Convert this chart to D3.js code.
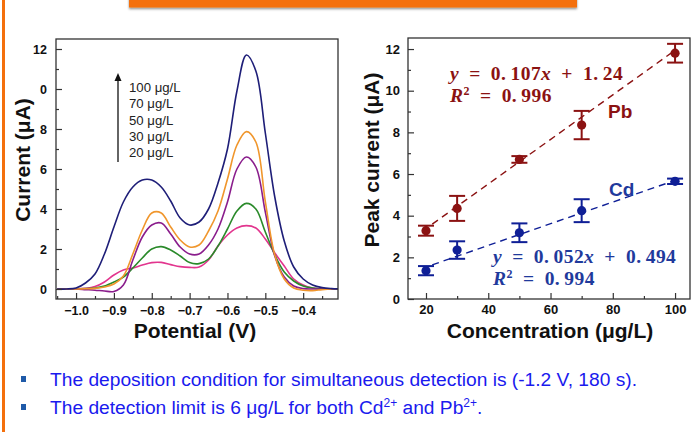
<!DOCTYPE html>
<html>
<head>
<meta charset="utf-8">
<script src="https://cdn.jsdelivr.net/npm/d3@7"></script>
<style>
  html, body { margin: 0; padding: 0; background: #fff; }
  svg { display: block; }
</style>
</head>
<body>
<svg id="chart" width="693" height="432"></svg>
<script>
// ---------- DATA ----------
const potentials = [-1.05,-1.025,-1.0,-0.975,-0.95,-0.925,-0.9,-0.875,-0.85,-0.825,-0.8,-0.775,-0.75,-0.725,-0.7,-0.675,-0.65,-0.625,-0.6,-0.575,-0.55,-0.525,-0.5,-0.475,-0.45,-0.425,-0.4,-0.375,-0.35,-0.325,-0.3];
const cur100 = [0,0,0.05,0.3,0.75,1.75,3.1,4.35,5.1,5.45,5.45,5.1,4.4,3.55,3.2,3.35,4.0,5.3,7.0,9.9,11.7,10.9,7.8,4.6,2.4,1.1,0.5,0.2,0.07,0.02,0];
const cur70  = [0,0,0,0.01,0.03,0.1,0.25,0.65,1.75,2.95,3.8,3.8,3.1,2.45,2.1,2.2,2.9,3.9,5.5,7.2,7.87,7.35,4.37,1.7,0.5,0.05,-0.06,-0.08,-0.03,0,0];
const cur50  = [0,0,0,-0.03,-0.06,-0.1,-0.12,0.2,1.45,2.6,3.2,3.3,2.75,2.1,1.75,1.75,2.2,3.0,4.35,6.0,6.6,6.1,3.85,1.65,0.6,0.15,0.02,0,0,0,0];
const cur30  = [0,0,0,0.02,0.05,0.15,0.35,0.6,1.05,1.55,2.0,2.12,1.95,1.65,1.32,1.27,1.5,2.15,3.0,3.9,4.28,4.0,2.85,1.7,0.85,0.4,0.15,0.05,0,0,0];
const cur20  = [0,0,0,0.03,0.12,0.35,0.7,0.95,1.05,1.2,1.32,1.33,1.22,1.12,1.08,1.1,1.45,2.15,2.7,3.05,3.17,3.05,2.5,1.8,1.15,0.5,0.2,0.05,0,0,0];
const legendLabels = ["100 μg/L","70 μg/L","50 μg/L","30 μg/L","20 μg/L"];
const leftYTicks = [0,2,4,6,8,10,12];
const leftYTickLabels = ["0","2","4","6","8","0","12"];
const leftXTicks = [-1.0,-0.9,-0.8,-0.7,-0.6,-0.5,-0.4];

const concentrations = [20,30,50,70,100];
const pbMean = [3.28,4.35,6.7,8.35,11.8];
const pbErr  = [0.24,0.6,0.16,0.68,0.45];
const cdMean = [1.36,2.35,3.18,4.24,5.65];
const cdErr  = [0.22,0.42,0.45,0.55,0.13];
const pbFit = {slope:0.107, intercept:1.24, r2:"0.996"};
const cdFit = {slope:0.052, intercept:0.494, r2:"0.994"};
const rightYTicks = [0,2,4,6,8,10,12];
const rightXTicks = [20,40,60,80,100];

const bullets = [
  [{t:"The deposition condition for simultaneous detection is (-1.2 V, 180 s)."}],
  [{t:"The detection limit is 6 μg/L for both Cd"},{t:"2+",sup:true},{t:" and Pb"},{t:"2+",sup:true},{t:"."}]
];

// ---------- STYLE ----------
const curveColors = ["#1e1e78","#f0962c","#8a1d8c","#2a8a2a","#e2358e"];
const pbColor = "#8b1212";
const cdColor = "#0f1f96";
const eqBlue = "#1f3a9c";
const orange = "#f4700c";
const frameColor = "#333";
const sans = "Arial, 'Liberation Sans', Helvetica, sans-serif";
const serif = "'Liberation Serif', 'Times New Roman', serif";

const svg = d3.select("#chart");

// Slide decorations
const defs = svg.append("defs");
const f = defs.append("filter").attr("id","shadow").attr("x","-5%").attr("y","-50%").attr("width","110%").attr("height","250%");
f.append("feDropShadow").attr("dx",0).attr("dy",1.5).attr("stdDeviation",1.2).attr("flood-color","#000").attr("flood-opacity",0.45);
svg.append("rect").attr("x",129).attr("y",-4).attr("width",448).attr("height",11.5).attr("fill",orange).attr("filter","url(#shadow)");
svg.append("rect").attr("x",2).attr("y",0).attr("width",3).attr("height",432).attr("fill",orange);

// ---------- LEFT CHART ----------
const L = {left:56, right:338, top:39, bottom:299};
const xL = d3.scaleLinear().domain([-1.053,-0.308]).range([L.left,L.right]);
const yL = d3.scaleLinear().domain([-0.5,12.5]).range([L.bottom,L.top]);
const gL = svg.append("g");

const clip = defs.append("clipPath").attr("id","clipL");
clip.append("rect").attr("x",L.left).attr("y",L.top).attr("width",L.right-L.left).attr("height",L.bottom-L.top);

const lineGen = d3.line().x((d,i)=>xL(potentials[i])).y(d=>yL(d)).curve(d3.curveCatmullRom.alpha(0.5));
const seriesList = [cur20,cur30,cur50,cur70,cur100];
const seriesColors = [curveColors[4],curveColors[3],curveColors[2],curveColors[1],curveColors[0]];
gL.append("g").attr("clip-path","url(#clipL)").selectAll("path").data(seriesList).join("path")
  .attr("d",d=>lineGen(d)).attr("fill","none").attr("stroke",(d,i)=>seriesColors[i]).attr("stroke-width",1.6);

// axes (ticks inside)
const lyAxis = d3.axisLeft(yL).tickValues(leftYTicks).tickSize(-6).tickPadding(9)
  .tickFormat((d,i)=>leftYTickLabels[i]);
gL.append("g").attr("transform",`translate(${L.left},0)`).call(lyAxis);
const lyMinor = d3.axisLeft(yL).tickValues([1,3,5,7,9,11]).tickSize(-3).tickFormat("");
gL.append("g").attr("transform",`translate(${L.left},0)`).call(lyMinor);
const lxAxis = d3.axisBottom(xL).tickValues(leftXTicks).tickSize(-6).tickPadding(7).tickFormat(d3.format(".1f"));
gL.append("g").attr("transform",`translate(0,${L.bottom})`).call(lxAxis);
const lxMinor = d3.axisBottom(xL).tickValues([-1.05,-0.95,-0.85,-0.75,-0.65,-0.55,-0.45,-0.35]).tickSize(-3).tickFormat("");
gL.append("g").attr("transform",`translate(0,${L.bottom})`).call(lxMinor);
gL.append("rect").attr("x",L.left).attr("y",L.top).attr("width",L.right-L.left).attr("height",L.bottom-L.top)
  .attr("fill","none").attr("stroke",frameColor).attr("stroke-width",1.3);

// legend
const lg = gL.append("g");
lg.append("line").attr("x1",118).attr("x2",118).attr("y1",162).attr("y2",79).attr("stroke","#111").attr("stroke-width",1.3);
lg.append("path").attr("d","M114.5,81 L118,73 L121.5,81 Z").attr("fill","#111");
lg.selectAll("text").data(legendLabels).join("text")
  .attr("x",129).attr("y",(d,i)=>92+i*16.3).text(d=>d)
  .attr("font-family",sans).attr("font-size",13.2).attr("fill","#222");

// titles
gL.append("text").attr("x",195).attr("y",338).attr("text-anchor","middle").text("Potential (V)")
  .attr("font-family",sans).attr("font-weight","bold").attr("font-size",21).attr("fill","#111");
gL.append("text").attr("transform","translate(30,160) rotate(-90)").attr("text-anchor","middle").text("Current (μA)")
  .attr("font-family",sans).attr("font-weight","bold").attr("font-size",21).attr("fill","#111");

// ---------- RIGHT CHART ----------
const R = {left:408, right:690, top:38, bottom:299};
const xR = d3.scaleLinear().domain([14.22,104.8]).range([R.left,R.right]);
const yR = d3.scaleLinear().domain([0,12.53]).range([R.bottom,R.top]);
const gR = svg.append("g");

const ryAxis = d3.axisLeft(yR).tickValues(rightYTicks).tickSize(-6).tickPadding(8).tickFormat(d3.format("d"));
gR.append("g").attr("transform",`translate(${R.left},0)`).call(ryAxis);
gR.append("g").attr("transform",`translate(${R.left},0)`).call(d3.axisLeft(yR).tickValues([1,3,5,7,9,11]).tickSize(-3).tickFormat(""));
const rxAxis = d3.axisBottom(xR).tickValues(rightXTicks).tickSize(-6).tickPadding(6).tickFormat(d3.format("d"));
gR.append("g").attr("transform",`translate(0,${R.bottom})`).call(rxAxis);
gR.append("g").attr("transform",`translate(0,${R.bottom})`).call(d3.axisBottom(xR).tickValues([30,50,70,90]).tickSize(-3).tickFormat(""));
gR.append("rect").attr("x",R.left).attr("y",R.top).attr("width",R.right-R.left).attr("height",R.bottom-R.top)
  .attr("fill","none").attr("stroke",frameColor).attr("stroke-width",1.3);

// fit lines
function fitLine(fit,color){
  const xs=[22,100];
  gR.append("line").attr("x1",xR(xs[0])).attr("y1",yR(fit.slope*xs[0]+fit.intercept))
    .attr("x2",xR(xs[1])).attr("y2",yR(fit.slope*xs[1]+fit.intercept))
    .attr("stroke",color).attr("stroke-width",1.4).attr("stroke-dasharray","7,5");
}
fitLine(pbFit,pbColor);
fitLine(cdFit,cdColor);

function errPoints(means,errs,color){
  const g=gR.append("g");
  const cap=8;
  g.selectAll("line.v").data(concentrations).join("line").attr("class","v")
    .attr("x1",d=>xR(d)).attr("x2",d=>xR(d))
    .attr("y1",(d,i)=>yR(means[i]+errs[i])).attr("y2",(d,i)=>yR(means[i]-errs[i]))
    .attr("stroke",color).attr("stroke-width",2);
  g.selectAll("line.t").data(concentrations).join("line").attr("class","t")
    .attr("x1",d=>xR(d)-cap).attr("x2",d=>xR(d)+cap)
    .attr("y1",(d,i)=>yR(means[i]+errs[i])).attr("y2",(d,i)=>yR(means[i]+errs[i]))
    .attr("stroke",color).attr("stroke-width",2);
  g.selectAll("line.b").data(concentrations).join("line").attr("class","b")
    .attr("x1",d=>xR(d)-cap).attr("x2",d=>xR(d)+cap)
    .attr("y1",(d,i)=>yR(means[i]-errs[i])).attr("y2",(d,i)=>yR(means[i]-errs[i]))
    .attr("stroke",color).attr("stroke-width",2);
  g.selectAll("circle").data(concentrations).join("circle")
    .attr("cx",d=>xR(d)).attr("cy",(d,i)=>yR(means[i])).attr("r",4.6).attr("fill",color);
}
errPoints(pbMean,pbErr,pbColor);
errPoints(cdMean,cdErr,cdColor);

// equations
function equation(x,y,slope,intercept,r2,color){
  const t1=gR.append("text").attr("x",x).attr("y",y).attr("font-family",serif).attr("font-weight","bold")
    .attr("font-size",19.5).attr("fill",color).attr("letter-spacing",0.4);
  t1.append("tspan").attr("font-style","italic").text("y");
  t1.append("tspan").text("\u2002=\u20020.\u2009"+String(slope).split(".")[1]);
  t1.append("tspan").attr("font-style","italic").text("x");
  t1.append("tspan").text("\u2002+\u2002"+intercept.toString().replace(".",".\u2009"));
  const t2=gR.append("text").attr("x",x).attr("y",y+22).attr("font-family",serif).attr("font-weight","bold")
    .attr("font-size",19.5).attr("fill",color).attr("letter-spacing",0.4);
  t2.append("tspan").attr("font-style","italic").text("R");
  t2.append("tspan").attr("font-size",12).attr("dy",-7).text("2");
  t2.append("tspan").attr("dy",7).text("\u2002=\u20020.\u2009"+r2.split(".")[1]);
}
equation(450,80,pbFit.slope,pbFit.intercept,pbFit.r2,pbColor);
equation(493,263,cdFit.slope,cdFit.intercept,cdFit.r2,eqBlue);

gR.append("text").attr("x",608).attr("y",118).text("Pb").attr("font-family",sans).attr("font-weight","bold")
  .attr("font-size",19).attr("fill",pbColor);
gR.append("text").attr("x",609).attr("y",196).text("Cd").attr("font-family",sans).attr("font-weight","bold")
  .attr("font-size",19).attr("fill",eqBlue);

gR.append("text").attr("x",550).attr("y",338).attr("text-anchor","middle").text("Concentration (μg/L)")
  .attr("font-family",sans).attr("font-weight","bold").attr("font-size",21).attr("fill","#111");
gR.append("text").attr("transform","translate(379,160) rotate(-90)").attr("text-anchor","middle").text("Peak current (μA)")
  .attr("font-family",sans).attr("font-weight","bold").attr("font-size",21).attr("fill","#111");

// tick label styling
svg.selectAll(".tick text").attr("font-family",sans).attr("font-weight","bold").attr("fill","#111");
gL.selectAll(".tick text").attr("font-size",12.5);
gR.selectAll(".tick text").attr("font-size",13);
svg.selectAll(".tick line").attr("stroke",frameColor).attr("stroke-width",1.2);
svg.selectAll(".domain").remove();

// bullets
const gb = svg.append("g");
bullets.forEach((parts,i)=>{
  const y = 386 + i*28;
  gb.append("rect").attr("x",21).attr("y",y-10).attr("width",5).attr("height",6).attr("fill","#1f5aa8");
  const t = gb.append("text").attr("x",50).attr("y",y).attr("font-family",sans).attr("font-size",19.2).attr("fill","#1a1aee");
  let raised = false;
  parts.forEach(p=>{
    const sp = t.append("tspan").text(p.t);
    if(p.sup){ sp.attr("font-size",12).attr("dy",raised?0:-7); raised=true; }
    else { if(raised){ sp.attr("dy",7); raised=false; } }
  });
});
</script>
</body>
</html>
